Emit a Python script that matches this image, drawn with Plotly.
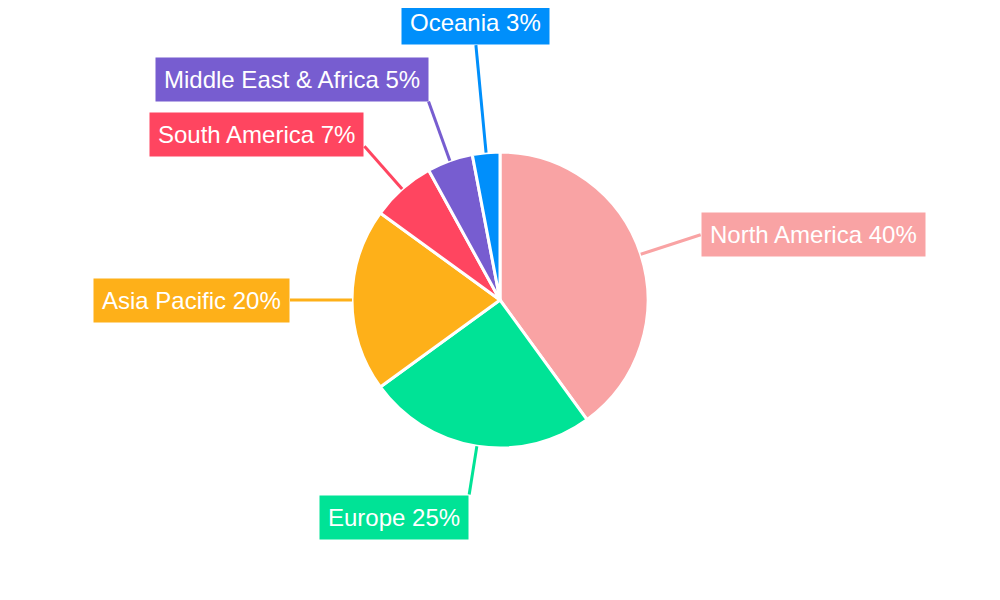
import math
import plotly.graph_objects as go

regions = ["North America", "Europe", "Asia Pacific", "South America", "Middle East & Africa", "Oceania"]
shares = [40, 25, 20, 7, 5, 3]
colors = ["#f9a3a4", "#00e396", "#feb019", "#ff4560", "#775dd0", "#008ffb"]
leader_len = [63, 49, 62, 57, 63, 108]
label_lift = [0, 0, 0, 12, 22, 0]

W, H = 1000, 600
cx, cy, r = 492, 292, 148

fig = go.Figure(go.Pie(
    labels=regions, values=shares, sort=False, direction="clockwise", rotation=0,
    marker=dict(colors=colors, line=dict(color="white", width=3)),
    textinfo="none", hoverinfo="label+percent", showlegend=False,
    domain=dict(x=[(cx - r) / W, (cx + r) / W], y=[(H - cy - r) / H, (H - cy + r) / H]),
))

total = sum(shares)
cum = 0
shapes, annos = [], []
for name, v, c, L, lift in zip(regions, shares, colors, leader_len, label_lift):
    mid = (cum + v / 2) / total * 2 * math.pi
    cum += v
    s, co = math.sin(mid), math.cos(mid)
    x0, y0 = cx + r * s, cy - r * co
    x1, y1 = cx + (r + L) * s, cy - (r + L) * co
    shapes.append(dict(type="line", xref="paper", yref="paper",
                       x0=x0 / W, y0=1 - y0 / H, x1=x1 / W, y1=1 - y1 / H,
                       line=dict(color=c, width=3)))
    if abs(s) < 0.12:
        xa = "center"
    else:
        xa = "left" if s > 0 else "right"
    if abs(co) > 0.95:
        ya = "bottom" if co > 0 else "top"
    else:
        ya = "middle"
    annos.append(dict(x=x1 / W, y=1 - y1 / H, xref="paper", yref="paper",
                      text=f"{name} {round(v / total * 100)}%", showarrow=False,
                      xanchor=xa, yanchor=ya, yshift=lift, bgcolor=c, borderpad=8,
                      font=dict(family="Liberation Sans, Arial", size=24, color="white")))

fig.update_layout(width=W, height=H, margin=dict(l=0, r=0, t=0, b=0),
                  paper_bgcolor="white", shapes=shapes, annotations=annos)
fig.write_html("out.html")
